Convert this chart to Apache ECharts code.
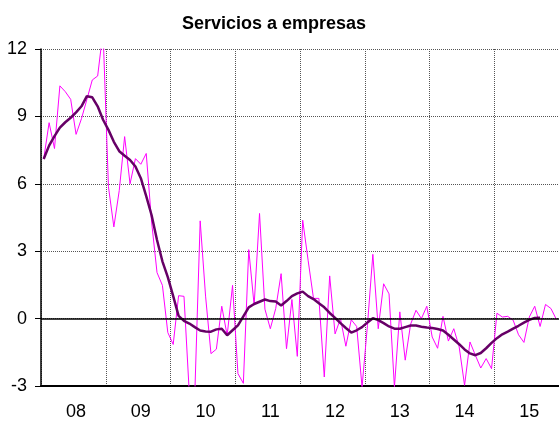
<!DOCTYPE html>
<html>
<head>
<meta charset="utf-8">
<script src="https://cdn.jsdelivr.net/npm/echarts@6/dist/echarts.min.js"></script>
<style>
  html, body { margin: 0; padding: 0; background: #fff; }
  #chart { width: 559px; height: 421px; }
</style>
</head>
<body>
<div id="chart"></div>
<script>
// años del eje x (etiqueta de dos dígitos)
const anios = ['08', '09', '10', '11', '12', '13', '14', '15'];
const yTicks = [-3, 0, 3, 6, 9, 12];

// serie mensual (fina, magenta)
const serieMensual = [
  7.1, 8.72, 7.57, 10.36, 10.1, 9.76, 8.2, 8.9, 9.75, 10.62, 10.8, 12.8,
  5.87, 4.08, 5.7, 8.1, 6.0, 7.12, 6.87, 7.35, 4.3, 2.05, 1.48, -0.62,
  -1.15, 1.02, 0.99, -3.4, -3.4, 4.35, 1.0, -1.56, -1.36, 0.55, -0.75, 1.48,
  -2.45, -2.88, 3.07, 0.6, 4.68, 0.42, -0.45, 0.45, 2.0, -1.34, 0.85, -1.68,
  4.38, 2.6, 0.9, 0.9, -2.6, 1.9, -0.68, 0.0, -1.23, -0.05, -0.35, -3.05,
  -0.3, 2.86, -0.45, 1.55, 1.1, -3.05, 0.3, -1.85, -0.25, 0.37, 0.0, 0.55,
  -0.82, -1.32, 0.1, -1.0, -0.45, -1.26, -2.97, -1.04, -1.63, -2.2, -1.78, -2.23,
  0.24, 0.07, 0.1, -0.07, -0.72, -1.06, 0.07, 0.55, -0.35, 0.63, 0.45, -0.03
];

// tendencia (gruesa, morada)
const serieTendencia = [
  7.1, 7.7, 8.12, 8.5, 8.74, 8.94, 9.18, 9.45, 9.9, 9.85, 9.45, 8.85,
  8.4, 7.87, 7.45, 7.25, 7.06, 6.77, 6.25, 5.45, 4.6, 3.5, 2.55, 1.85,
  1.0, 0.12, -0.1, -0.22, -0.38, -0.53, -0.57, -0.58, -0.48, -0.45, -0.74, -0.52,
  -0.3, 0.1, 0.5, 0.65, 0.75, 0.85, 0.78, 0.76, 0.58, 0.78, 1.0, 1.12,
  1.2, 1.0, 0.87, 0.68, 0.5, 0.25, 0.03, -0.2, -0.42, -0.62, -0.52, -0.38,
  -0.17, 0.02, -0.07, -0.2, -0.35, -0.45, -0.45, -0.38, -0.31, -0.31, -0.36, -0.4,
  -0.42, -0.46, -0.53, -0.72, -0.93, -1.14, -1.37, -1.55, -1.63, -1.53, -1.32, -1.08,
  -0.87, -0.7, -0.58, -0.45, -0.32, -0.18, -0.06, 0.03, 0.04
];

// categorías mensuales: "08-1" ... "15-12"
const meses = [];
anios.forEach(a => { for (let m = 1; m <= 12; m++) meses.push(a + '-' + m); });

const fuente = 'Liberation Sans, Arial, sans-serif';
const limiteAnio = (i) => i % 12 === 0;

const chart = echarts.init(document.getElementById('chart'));

chart.setOption({
  animation: false,
  backgroundColor: '#fff',
  title: {
    text: 'Servicios a empresas',
    left: 177,
    top: 10,
    textStyle: { fontFamily: fuente, fontSize: 18, fontWeight: 'bold', color: '#000' }
  },
  grid: { left: 41, top: 49, width: 519, height: 337 },
  xAxis: {
    type: 'category',
    data: meses,
    boundaryGap: true,
    axisLine: { onZero: false, lineStyle: { color: '#000', width: 2 } },
    axisTick: { interval: limiteAnio, length: 5, lineStyle: { color: '#666' } },
    splitLine: { show: true, interval: limiteAnio, lineStyle: { type: 'dotted', color: '#555' } },
    axisLabel: {
      interval: (i) => i % 12 === 6,
      formatter: (v) => v.split('-')[0],
      fontFamily: fuente, fontSize: 18, color: '#000', margin: 17
    }
  },
  yAxis: {
    type: 'value',
    min: yTicks[0],
    max: yTicks[yTicks.length - 1],
    interval: 3,
    axisLine: { show: true, lineStyle: { color: '#000', width: 1.5 } },
    axisTick: { show: true, length: 6, lineStyle: { color: '#000' } },
    axisLabel: { fontFamily: fuente, fontSize: 18, color: '#000', margin: 14 },
    splitLine: { show: true, lineStyle: { type: 'dotted', color: '#555' } }
  },
  series: [
    {
      type: 'line',
      data: serieMensual,
      symbol: 'none',
      lineStyle: { color: '#FF00FF', width: 1 },
      markLine: {
        silent: true,
        symbol: ['none', 'none'],
        label: { show: false },
        lineStyle: { color: '#000', type: 'solid', width: 1.5 },
        data: [{ yAxis: 0 }]
      },
      z: 2
    },
    {
      type: 'line',
      data: serieTendencia,
      symbol: 'none',
      lineStyle: { color: '#660066', width: 2.5 },
      z: 3
    }
  ]
});
</script>
</body>
</html>
